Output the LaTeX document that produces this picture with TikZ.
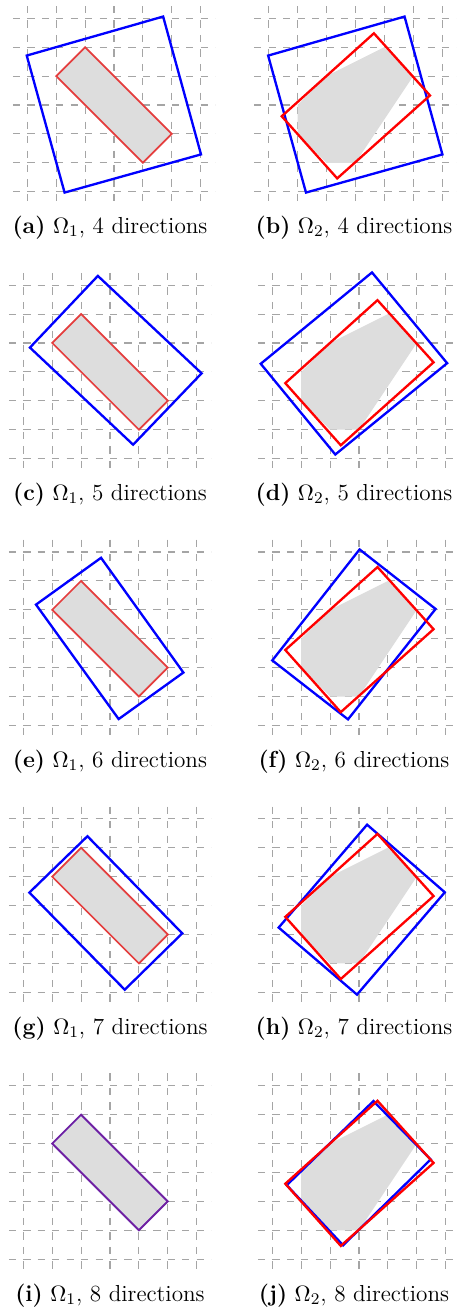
\documentclass[tikz,border=0pt]{standalone}
\usepackage{amsmath,amssymb}
\usepackage{xcolor}
\usepackage{tikz}
\usetikzlibrary{calc}
\definecolor{dir@grid}{RGB}{165,165,165}
\definecolor{dir@fill}{RGB}{221,221,221}
\definecolor{dir@blue}{RGB}{0,0,255}
\definecolor{dir@red}{RGB}{255,0,0}
\definecolor{dir@soft}{RGB}{228,62,62}
\tikzset{
  dirfig/.style={
    x=0.5cm, y=0.5cm,
    line join=miter,
    every node/.style={font=\fontsize{11.4}{13}\selectfont}
  },
  gridline/.style={                % dashed unit grid
    draw=dir@grid, line width=0.55pt,
    dash pattern=on 0.125cm off 0.125cm
  },
  region/.style={fill=dir@fill, draw=none},
  bluerect/.style={draw=dir@blue, line width=1.15pt},
  redrect/.style={draw=dir@red, line width=1.15pt},
  redthin/.style={draw=dir@soft, line width=0.85pt},
  subcap/.style={anchor=base}
}
% grid and the two domains, in grid units
\newcommand{\dirgridlines}{%
  \draw[gridline] \foreach \k in {0,...,6}{(-0.5,\k) -- (6.5,\k)};
  \draw[gridline, dash phase=0.2125cm] \foreach \k in {0,...,6}{(\k,6.5) -- (\k,-0.5)};}
\newcommand{\omegaone}[1][region]{%
  \path[#1] (1,4) -- (2,5) -- (5,2) -- (4,1) -- cycle;}
\newcommand{\omegatwo}{%
  \path[region] (2,1) -- (3,1) -- (5,4) -- (4,5) -- (2,4) -- (1,3) -- (1,2) -- cycle;}
\newcommand{\optrect}{%
  \draw[redrect] (3.64,5.48) -- (5.58,3.33) -- (2.37,0.46) -- (0.45,2.61) -- cycle;}

\begin{document}
\begin{tikzpicture}[dirfig]
\useasboundingbox (0,0) rectangle (15.813,-45.363);

% row 1: 4 directions
\begin{scope}[shift={(0.945,-6.633)}]
  \dirgridlines
  \omegaone
  \draw[bluerect] (-0.02,4.71) -- (4.70,6.06) -- (6.01,1.29) -- (1.29,-0.03) -- cycle;
  \omegaone[redthin]
\end{scope}
\begin{scope}[shift={(9.298,-6.633)}]
  \dirgridlines
  \omegatwo
  \draw[bluerect] (-0.02,4.71) -- (4.70,6.06) -- (6.01,1.29) -- (1.29,-0.03) -- cycle;
  \optrect
\end{scope}
\node[subcap] (capa) at (3.806,-8.083) {\textbf{(a)} $\Omega_1$, 4 directions};
\node[subcap] (capb) at (12.249,-8.083) {\textbf{(b)} $\Omega_2$, 4 directions};

% row 2: 5 directions
\begin{scope}[shift={(0.806,-15.867)}]
  \dirgridlines
  \omegaone
  \draw[bluerect] (2.58,6.32) -- (6.17,2.95) -- (3.80,0.48) -- (0.23,3.84) -- cycle;
  \omegaone[redthin]
\end{scope}
\begin{scope}[shift={(9.422,-15.867)}]
  \dirgridlines
  \omegatwo
  \draw[bluerect] (3.45,6.44) -- (6.05,3.30) -- (2.18,0.14) -- (-0.40,3.28) -- cycle;
  \optrect
\end{scope}
\node[subcap] (capc) at (3.806,-17.317) {\textbf{(c)} $\Omega_1$, 5 directions};
\node[subcap] (capd) at (12.249,-17.317) {\textbf{(d)} $\Omega_2$, 5 directions};

% row 3: 6 directions
\begin{scope}[shift={(0.806,-25.101)}]
  \dirgridlines
  \omegaone
  \draw[bluerect] (2.69,5.80) -- (5.54,1.83) -- (3.30,0.22) -- (0.44,4.18) -- cycle;
  \omegaone[redthin]
\end{scope}
\begin{scope}[shift={(9.422,-25.101)}]
  \dirgridlines
  \omegatwo
  \draw[bluerect] (3.02,6.09) -- (5.65,4.03) -- (2.62,0.21) -- (0,2.25) -- cycle;
  \optrect
\end{scope}
\node[subcap] (cape) at (3.806,-26.551) {\textbf{(e)} $\Omega_1$, 6 directions};
\node[subcap] (capf) at (12.249,-26.551) {\textbf{(f)} $\Omega_2$, 6 directions};

% row 4: 7 directions
\begin{scope}[shift={(0.806,-34.335)}]
  \dirgridlines
  \omegaone
  \draw[bluerect] (2.22,5.40) -- (5.50,2.04) -- (3.51,0.09) -- (0.21,3.45) -- cycle;
  \omegaone[redthin]
\end{scope}
\begin{scope}[shift={(9.422,-34.335)}]
  \dirgridlines
  \omegatwo
  \draw[bluerect] (3.28,5.80) -- (5.97,3.46) -- (2.93,-0.08) -- (0.22,2.24) -- cycle;
  \optrect
\end{scope}
\node[subcap] (capg) at (3.806,-35.785) {\textbf{(g)} $\Omega_1$, 7 directions};
\node[subcap] (caph) at (12.249,-35.785) {\textbf{(h)} $\Omega_2$, 7 directions};

% row 5: 8 directions, blue and red coincide on the left
\begin{scope}[shift={(0.806,-43.569)}]
  \dirgridlines
  \omegaone
  \omegaone[draw=dir@blue, line width=0.85pt]
  \omegaone[redthin, draw opacity=0.5]
\end{scope}
\begin{scope}[shift={(9.422,-43.569)}]
  \dirgridlines
  \omegatwo
  \draw[bluerect] (3.50,5.47) -- (5.48,3.45) -- (2.45,0.48) -- (0.50,2.56) -- cycle;
  \optrect
\end{scope}
\node[subcap] (capi) at (3.806,-45.019) {\textbf{(i)} $\Omega_1$, 8 directions};
\node[subcap] (capj) at (12.249,-45.019) {\textbf{(j)} $\Omega_2$, 8 directions};

\end{tikzpicture}
\end{document}
